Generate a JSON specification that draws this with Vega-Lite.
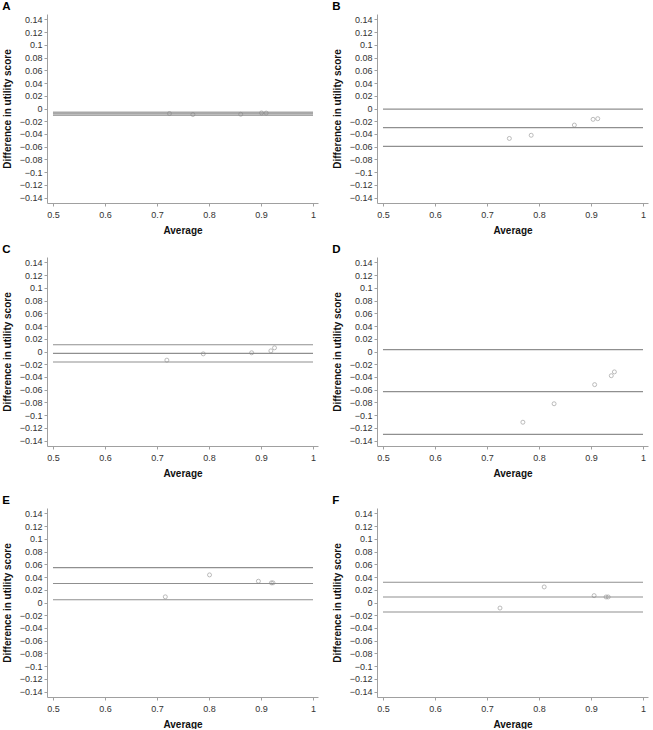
{
  "$schema": "https://vega.github.io/schema/vega-lite/v6.json",
  "padding": {"left": 2, "top": 0, "right": 1, "bottom": 0},
  "background": "white",
  "datasets": {
    "points": [
      {"panel": "A", "avg": 0.724, "diff": -0.0079},
      {"panel": "A", "avg": 0.769, "diff": -0.0095},
      {"panel": "A", "avg": 0.861, "diff": -0.0090},
      {"panel": "A", "avg": 0.901, "diff": -0.0070},
      {"panel": "A", "avg": 0.910, "diff": -0.0072},
      {"panel": "B", "avg": 0.743, "diff": -0.047},
      {"panel": "B", "avg": 0.785, "diff": -0.042},
      {"panel": "B", "avg": 0.868, "diff": -0.026},
      {"panel": "B", "avg": 0.904, "diff": -0.017},
      {"panel": "B", "avg": 0.913, "diff": -0.016},
      {"panel": "C", "avg": 0.719, "diff": -0.0136},
      {"panel": "C", "avg": 0.789, "diff": -0.0037},
      {"panel": "C", "avg": 0.882, "diff": -0.002},
      {"panel": "C", "avg": 0.919, "diff": 0.001},
      {"panel": "C", "avg": 0.926, "diff": 0.0058},
      {"panel": "D", "avg": 0.769, "diff": -0.111},
      {"panel": "D", "avg": 0.829, "diff": -0.082},
      {"panel": "D", "avg": 0.907, "diff": -0.052},
      {"panel": "D", "avg": 0.939, "diff": -0.038},
      {"panel": "D", "avg": 0.945, "diff": -0.032},
      {"panel": "E", "avg": 0.716, "diff": 0.0089},
      {"panel": "E", "avg": 0.801, "diff": 0.0433},
      {"panel": "E", "avg": 0.895, "diff": 0.0334},
      {"panel": "E", "avg": 0.920, "diff": 0.0308},
      {"panel": "E", "avg": 0.923, "diff": 0.0308},
      {"panel": "F", "avg": 0.725, "diff": -0.0087},
      {"panel": "F", "avg": 0.810, "diff": 0.0244},
      {"panel": "F", "avg": 0.906, "diff": 0.0108},
      {"panel": "F", "avg": 0.929, "diff": 0.0087},
      {"panel": "F", "avg": 0.933, "diff": 0.0087}
    ],
    "limits": [
      {"panel": "A", "diff": -0.0058},
      {"panel": "A", "diff": -0.0082},
      {"panel": "A", "diff": -0.0106},
      {"panel": "B", "diff": -0.001},
      {"panel": "B", "diff": -0.030},
      {"panel": "B", "diff": -0.0595},
      {"panel": "C", "diff": 0.0105},
      {"panel": "C", "diff": -0.003},
      {"panel": "C", "diff": -0.0165},
      {"panel": "D", "diff": 0.0029},
      {"panel": "D", "diff": -0.063},
      {"panel": "D", "diff": -0.130},
      {"panel": "E", "diff": 0.0548},
      {"panel": "E", "diff": 0.0298},
      {"panel": "E", "diff": 0.0042},
      {"panel": "F", "diff": 0.0318},
      {"panel": "F", "diff": 0.0087},
      {"panel": "F", "diff": -0.015}
    ]
  },
  "spacing": 8,
  "vconcat": [
    {
      "spacing": 14,
      "hconcat": [
        {
          "title": {"text": "A"},
          "width": 271, "height": 189,
          "layer": [
            {"data": {"name": "limits"}, "transform": [{"filter": "datum.panel === 'A'"}],
             "mark": {"type": "rule", "color": "#a8a8a8", "strokeWidth": 1.6},
             "encoding": {"y": {"field": "diff", "type": "quantitative", "title": "Difference in utility score", "scale": {"domain": [-0.1483, 0.1483], "nice": false, "zero": false}, "axis": {"values": [-0.14, -0.12, -0.1, -0.08, -0.06, -0.04, -0.02, 0, 0.02, 0.04, 0.06, 0.08, 0.1, 0.12, 0.14], "labelExpr": "format(datum.value, '.2~f')"}}, "x": {"datum": 0.5}, "x2": {"datum": 1}}},
            {"data": {"name": "points"}, "transform": [{"filter": "datum.panel === 'A'"}],
             "mark": {"type": "point", "shape": "circle", "size": 16, "color": "#888888", "strokeWidth": 0.8},
             "encoding": {
               "x": {"field": "avg", "type": "quantitative", "title": "Average", "scale": {"domain": [0.4885, 1.0096], "nice": false, "zero": false}, "axis": {"values": [0.5, 0.6, 0.7, 0.8, 0.9, 1], "labelExpr": "format(datum.value, '.1~f')"}},
               "y": {"field": "diff", "type": "quantitative", "title": "Difference in utility score", "scale": {"domain": [-0.1483, 0.1483], "nice": false, "zero": false}, "axis": {"values": [-0.14, -0.12, -0.1, -0.08, -0.06, -0.04, -0.02, 0, 0.02, 0.04, 0.06, 0.08, 0.1, 0.12, 0.14], "labelExpr": "format(datum.value, '.2~f')"}}
             }}
          ]
        },
        {
          "title": {"text": "B"},
          "width": 271, "height": 189,
          "layer": [
            {"data": {"name": "limits"}, "transform": [{"filter": "datum.panel === 'B'"}],
             "mark": {"type": "rule", "color": "#8f8f8f", "strokeWidth": 1.1},
             "encoding": {"y": {"field": "diff", "type": "quantitative", "title": "Difference in utility score", "scale": {"domain": [-0.1483, 0.1483], "nice": false, "zero": false}, "axis": {"values": [-0.14, -0.12, -0.1, -0.08, -0.06, -0.04, -0.02, 0, 0.02, 0.04, 0.06, 0.08, 0.1, 0.12, 0.14], "labelExpr": "format(datum.value, '.2~f')"}}, "x": {"datum": 0.5}, "x2": {"datum": 1}}},
            {"data": {"name": "points"}, "transform": [{"filter": "datum.panel === 'B'"}],
             "mark": {"type": "point", "shape": "circle", "size": 16, "color": "#888888", "strokeWidth": 0.8},
             "encoding": {
               "x": {"field": "avg", "type": "quantitative", "title": "Average", "scale": {"domain": [0.4885, 1.0096], "nice": false, "zero": false}, "axis": {"values": [0.5, 0.6, 0.7, 0.8, 0.9, 1], "labelExpr": "format(datum.value, '.1~f')"}},
               "y": {"field": "diff", "type": "quantitative", "title": "Difference in utility score", "scale": {"domain": [-0.1483, 0.1483], "nice": false, "zero": false}, "axis": {"values": [-0.14, -0.12, -0.1, -0.08, -0.06, -0.04, -0.02, 0, 0.02, 0.04, 0.06, 0.08, 0.1, 0.12, 0.14], "labelExpr": "format(datum.value, '.2~f')"}}
             }}
          ]
        }
      ]
    },
    {
      "spacing": 16,
      "vconcat": [
        {
          "spacing": 14,
          "hconcat": [
            {
              "title": {"text": "C"},
              "width": 271, "height": 189,
              "layer": [
                {"data": {"name": "limits"}, "transform": [{"filter": "datum.panel === 'C'"}],
                 "mark": {"type": "rule", "color": "#8f8f8f", "strokeWidth": 1.1},
                 "encoding": {"y": {"field": "diff", "type": "quantitative", "title": "Difference in utility score", "scale": {"domain": [-0.1483, 0.1483], "nice": false, "zero": false}, "axis": {"values": [-0.14, -0.12, -0.1, -0.08, -0.06, -0.04, -0.02, 0, 0.02, 0.04, 0.06, 0.08, 0.1, 0.12, 0.14], "labelExpr": "format(datum.value, '.2~f')"}}, "x": {"datum": 0.5}, "x2": {"datum": 1}}},
                {"data": {"name": "points"}, "transform": [{"filter": "datum.panel === 'C'"}],
                 "mark": {"type": "point", "shape": "circle", "size": 16, "color": "#888888", "strokeWidth": 0.8},
                 "encoding": {
                   "x": {"field": "avg", "type": "quantitative", "title": "Average", "scale": {"domain": [0.4885, 1.0096], "nice": false, "zero": false}, "axis": {"values": [0.5, 0.6, 0.7, 0.8, 0.9, 1], "labelExpr": "format(datum.value, '.1~f')"}},
                   "y": {"field": "diff", "type": "quantitative", "title": "Difference in utility score", "scale": {"domain": [-0.1483, 0.1483], "nice": false, "zero": false}, "axis": {"values": [-0.14, -0.12, -0.1, -0.08, -0.06, -0.04, -0.02, 0, 0.02, 0.04, 0.06, 0.08, 0.1, 0.12, 0.14], "labelExpr": "format(datum.value, '.2~f')"}}
                 }}
              ]
            },
            {
              "title": {"text": "D"},
              "width": 271, "height": 189,
              "layer": [
                {"data": {"name": "limits"}, "transform": [{"filter": "datum.panel === 'D'"}],
                 "mark": {"type": "rule", "color": "#8f8f8f", "strokeWidth": 1.1},
                 "encoding": {"y": {"field": "diff", "type": "quantitative", "title": "Difference in utility score", "scale": {"domain": [-0.1483, 0.1483], "nice": false, "zero": false}, "axis": {"values": [-0.14, -0.12, -0.1, -0.08, -0.06, -0.04, -0.02, 0, 0.02, 0.04, 0.06, 0.08, 0.1, 0.12, 0.14], "labelExpr": "format(datum.value, '.2~f')"}}, "x": {"datum": 0.5}, "x2": {"datum": 1}}},
                {"data": {"name": "points"}, "transform": [{"filter": "datum.panel === 'D'"}],
                 "mark": {"type": "point", "shape": "circle", "size": 16, "color": "#888888", "strokeWidth": 0.8},
                 "encoding": {
                   "x": {"field": "avg", "type": "quantitative", "title": "Average", "scale": {"domain": [0.4885, 1.0096], "nice": false, "zero": false}, "axis": {"values": [0.5, 0.6, 0.7, 0.8, 0.9, 1], "labelExpr": "format(datum.value, '.1~f')"}},
                   "y": {"field": "diff", "type": "quantitative", "title": "Difference in utility score", "scale": {"domain": [-0.1483, 0.1483], "nice": false, "zero": false}, "axis": {"values": [-0.14, -0.12, -0.1, -0.08, -0.06, -0.04, -0.02, 0, 0.02, 0.04, 0.06, 0.08, 0.1, 0.12, 0.14], "labelExpr": "format(datum.value, '.2~f')"}}
                 }}
              ]
            }
          ]
        },
        {
          "spacing": 14,
          "hconcat": [
            {
              "title": {"text": "E"},
              "width": 271, "height": 189,
              "layer": [
                {"data": {"name": "limits"}, "transform": [{"filter": "datum.panel === 'E'"}],
                 "mark": {"type": "rule", "color": "#8f8f8f", "strokeWidth": 1.1},
                 "encoding": {"y": {"field": "diff", "type": "quantitative", "title": "Difference in utility score", "scale": {"domain": [-0.1483, 0.1483], "nice": false, "zero": false}, "axis": {"values": [-0.14, -0.12, -0.1, -0.08, -0.06, -0.04, -0.02, 0, 0.02, 0.04, 0.06, 0.08, 0.1, 0.12, 0.14], "labelExpr": "format(datum.value, '.2~f')"}}, "x": {"datum": 0.5}, "x2": {"datum": 1}}},
                {"data": {"name": "points"}, "transform": [{"filter": "datum.panel === 'E'"}],
                 "mark": {"type": "point", "shape": "circle", "size": 16, "color": "#888888", "strokeWidth": 0.8},
                 "encoding": {
                   "x": {"field": "avg", "type": "quantitative", "title": "Average", "scale": {"domain": [0.4885, 1.0096], "nice": false, "zero": false}, "axis": {"values": [0.5, 0.6, 0.7, 0.8, 0.9, 1], "labelExpr": "format(datum.value, '.1~f')"}},
                   "y": {"field": "diff", "type": "quantitative", "title": "Difference in utility score", "scale": {"domain": [-0.1483, 0.1483], "nice": false, "zero": false}, "axis": {"values": [-0.14, -0.12, -0.1, -0.08, -0.06, -0.04, -0.02, 0, 0.02, 0.04, 0.06, 0.08, 0.1, 0.12, 0.14], "labelExpr": "format(datum.value, '.2~f')"}}
                 }}
              ]
            },
            {
              "title": {"text": "F"},
              "width": 271, "height": 189,
              "layer": [
                {"data": {"name": "limits"}, "transform": [{"filter": "datum.panel === 'F'"}],
                 "mark": {"type": "rule", "color": "#8f8f8f", "strokeWidth": 1.1},
                 "encoding": {"y": {"field": "diff", "type": "quantitative", "title": "Difference in utility score", "scale": {"domain": [-0.1483, 0.1483], "nice": false, "zero": false}, "axis": {"values": [-0.14, -0.12, -0.1, -0.08, -0.06, -0.04, -0.02, 0, 0.02, 0.04, 0.06, 0.08, 0.1, 0.12, 0.14], "labelExpr": "format(datum.value, '.2~f')"}}, "x": {"datum": 0.5}, "x2": {"datum": 1}}},
                {"data": {"name": "points"}, "transform": [{"filter": "datum.panel === 'F'"}],
                 "mark": {"type": "point", "shape": "circle", "size": 16, "color": "#888888", "strokeWidth": 0.8},
                 "encoding": {
                   "x": {"field": "avg", "type": "quantitative", "title": "Average", "scale": {"domain": [0.4885, 1.0096], "nice": false, "zero": false}, "axis": {"values": [0.5, 0.6, 0.7, 0.8, 0.9, 1], "labelExpr": "format(datum.value, '.1~f')"}},
                   "y": {"field": "diff", "type": "quantitative", "title": "Difference in utility score", "scale": {"domain": [-0.1483, 0.1483], "nice": false, "zero": false}, "axis": {"values": [-0.14, -0.12, -0.1, -0.08, -0.06, -0.04, -0.02, 0, 0.02, 0.04, 0.06, 0.08, 0.1, 0.12, 0.14], "labelExpr": "format(datum.value, '.2~f')"}}
                 }}
              ]
            }
          ]
        }
      ]
    }
  ],
  "config": {
    "view": {"stroke": null},
    "font": "Liberation Sans",
    "title": {"anchor": "start", "frame": "bounds", "fontSize": 11.5, "fontWeight": "bold", "font": "Liberation Sans", "offset": 2, "color": "#000000"},
    "axis": {
      "grid": false,
      "domainColor": "#a0a0a0",
      "tickColor": "#a0a0a0",
      "tickSize": 3,
      "labelColor": "#333333",
      "labelFont": "Liberation Sans",
      "labelFontSize": 9,
      "labelPadding": 2,
      "titleFont": "Liberation Sans",
      "titleFontSize": 10,
      "titleFontWeight": "bold",
      "titleColor": "#111111",
      "titlePadding": 7
    },
    "axisX": {"labelFlush": false, "labelPadding": 4, "titlePadding": 6},
    "point": {"filled": false}
  }
}
